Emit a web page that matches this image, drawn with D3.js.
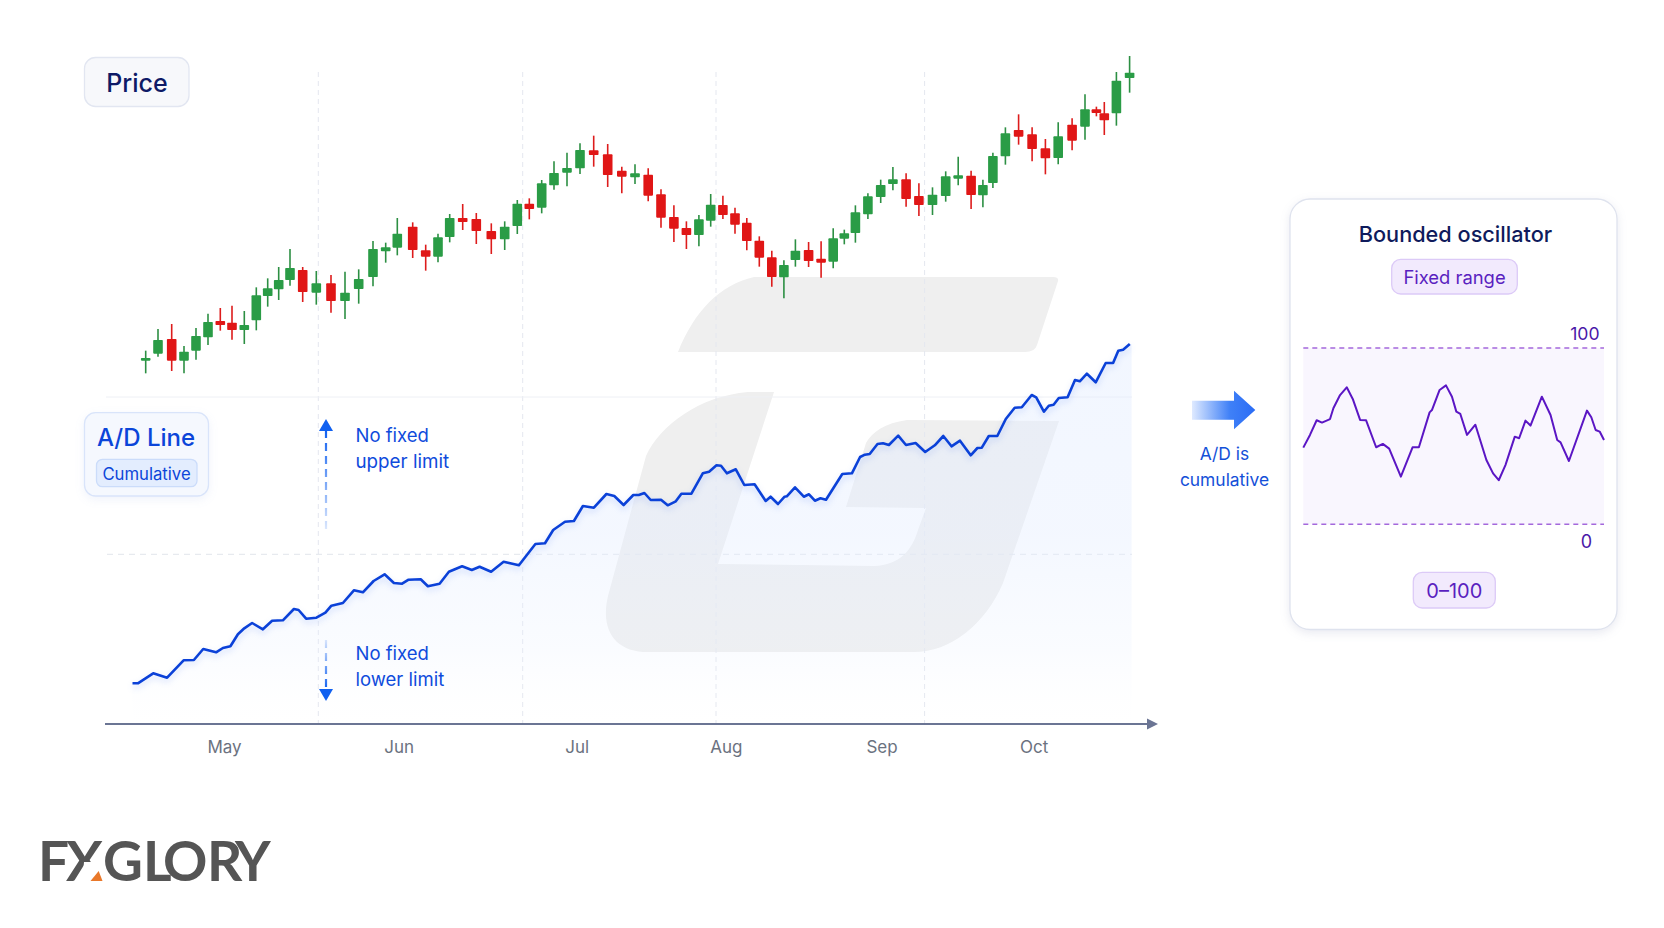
<!DOCTYPE html>
<html>
<head>
<meta charset="utf-8">
<script src="https://cdn.jsdelivr.net/npm/d3@7"></script>
<style>
  html, body { margin: 0; padding: 0; background: #fff; }
  svg { display: block; }
  text { font-family: Inter, "Noto Sans", sans-serif; }
</style>
</head>
<body>
<div id="chart"></div>
<script>
// candles, chart position along the time axis
var candleT = [45.7,58,71.7,84,96,108,120.3,132,144.3,156.3,167.7,178.7,190,202.7,216.3,231,245,258.7,273,285.7,297.3,312.7,325.7,338,349.7,362.7,376.3,391.3,404.7,417.3,429.3,441.7,454,467,480,493.7,507.7,521.8,535,548.2,561,573.9,586.4,598.9,610.7,622.9,635,646.8,659.3,671.8,683.9,695.4,708.6,721.1,733.2,744.3,755.4,767.9,780.7,792.9,806.1,818.9,832.5,845.7,858.2,871.1,882.9,892.9,905.4,918.6,932.1,945.4,958.2,972.1,985,996.4,1004.3,1016.4,1029.6];
var open  = [58,79,123,58,88,128,177,172,150,179,252,272,300,330,262,290,237,273,309,386,397,460,389,370,429,486,483,447,422,462,529,517,584,622,635,689,677,628,608,616,557,489,456,435,478,525,500,472,418,368,308,360,390,364,355,424,441,497,549,588,602,552,525,552,604,613,554,591,671,750,737,695,666,766,760,812,800,800,906];
var high  = [88,153,168,102,156,199,216,223,207,278,305,339,393,339,327,315,325,332,417,412,486,473,406,439,498,528,501,470,476,540,545,600,656,682,710,733,708,640,647,635,572,524,476,495,558,553,517,486,431,388,359,422,414,416,455,451,524,560,601,639,620,590,578,626,670,628,601,682,758,797,758,723,773,785,857,820,834,924,972];
var low   = [20,70,27,20,61,105,148,121,108,149,220,240,283,234,226,202,183,229,281,352,374,366,328,353,413,450,408,378,390,438,482,500,571,581,618,640,579,560,588,536,457,414,393,401,460,483,439,389,340,280,245,340,339,307,335,407,412,483,531,569,520,492,495,535,584,513,518,576,646,706,656,617,647,689,721,791,735,763,862];
var close = [66,120,58,85,132,174,165,150,165,254,275,300,336,264,290,237,262,303,393,398,439,390,370,428,486,474,447,422,460,529,513,590,621,636,690,675,615,610,620,553,487,454,435,482,526,495,466,417,367,309,345,388,357,352,425,440,503,551,585,602,543,525,556,611,614,555,585,672,740,730,693,665,731,718,812,801,779,898,922];

// A/D line
var adT = [32.5,37.9,53.2,67.1,83.6,93.9,103.2,116.1,122.9,130.4,137.9,144.3,152.1,162.9,172.1,182.9,193.9,198.6,206.1,216.4,225.4,231.4,242.9,253.9,262.9,273.6,284.6,293.9,302.1,308.6,320.7,327.9,339.6,348.9,362.1,371.8,379.6,391.1,403.6,418.9,435.4,445,453.2,465,473.9,482.9,493.9,506.4,514.3,523.6,533.3,538.8,544.4,550.7,561,567.7,575.8,581.4,591.4,602.8,609.1,616.5,621,626.9,635.8,644.3,654.6,665.7,670.6,678,684.6,686.8,695,703.8,709,714.9,720.5,726,742.3,751.9,760.1,764.9,769.7,777.5,783,788.9,798.2,806,815.6,825.2,834.8,843.3,851.5,860,870.7,877.4,881.8,888.8,897.3,905.8,914.7,921.8,931.7,936.2,943.9,948.8,953.6,958.8,967.6,975,979.8,986.9,995.7,1005.7,1013.1,1018.3,1023.1,1029.8];
var adValues = [16.7,16.7,26.7,22.3,39.7,40,51,47.7,52,53.7,65.7,71.7,77,70.7,79.3,79.7,91,90,81.3,82.3,87.3,94.3,97,109.7,107.7,119,125.7,117,116.3,120.3,120.7,113.7,116.3,128.3,133.7,130,133.3,128.3,138.3,134.7,156,156.7,170,178.3,179,194,192.3,206,204,195,205,205,207,200,200.3,194.7,198.7,206.3,206.3,226.7,228.3,234.7,234.3,226.7,230.7,215,215.7,199,203.3,196,203.3,203.7,212.7,203.3,205.7,199.3,201.7,200.3,226,226.7,243,245.3,246,256,256.7,255,264.3,255,257,248,254.7,264,253.7,259.3,244.7,252,252.3,264,264,281,292.3,292.7,305,302.7,288.3,294.3,295.3,302,302.7,320,318.7,326.3,317.7,337,337,349.3,350.3,356];

// bounded oscillator
var oscT = [0,20,40,56,80,90,110,130,148,170,188,218,238,257,292,327,346,378,385,408,427,445,458,470,490,515,548,568,585,605,633,646,665,680,714,740,760,770,795,849,862,875,887,900];
var oscValues = [43.5,50.7,59,57.7,59.7,65.8,73.3,77.7,71.1,59.2,59,43.7,45.6,42.9,27,43.7,43.7,63.5,64.8,76.2,78.8,72.4,63.9,62.6,50.7,56.5,36.5,28.9,25,33.6,49.7,48.8,58.8,56,72.4,62,47.8,46.5,35.9,64.5,60.7,53.5,52.6,47.8];
var oscLimits = [0, 100];

// axis
var months = ["May","Jun","Jul","Aug","Sep","Oct"];
var monthT = [124,298.6,476.8,625.8,781.5,933.6];
var gridT = [218.3,422.7,616,824.6];

var width = 1664, height = 928;
var svg = d3.select("#chart").append("svg").attr("width", width).attr("height", height);
var defs = svg.append("defs");

var axisY = 724;
var x = d3.scaleLinear().domain([0, 1100]).range([100, 1200]);
var yPrice = d3.scaleLinear().domain([0, 1020]).range([380, 40]);
var yAd = d3.scaleLinear().domain([-24, 360]).range([axisY, 340]);
var xOsc = d3.scaleLinear().domain([0, 900]).range([1303.3, 1604]);
var yOsc = d3.scaleLinear().domain(oscLimits).range([524.3, 348]);

var adGrad = defs.append("linearGradient").attr("id", "adFill")
  .attr("gradientUnits", "userSpaceOnUse").attr("x1", 0).attr("x2", 0).attr("y1", 344).attr("y2", axisY);
adGrad.append("stop").attr("offset", 0).attr("stop-color", "#e2ecff").attr("stop-opacity", 0.45);
adGrad.append("stop").attr("offset", 0.5).attr("stop-color", "#e4edff").attr("stop-opacity", 0.42);
adGrad.append("stop").attr("offset", 0.8).attr("stop-color", "#e8f0ff").attr("stop-opacity", 0.22);
adGrad.append("stop").attr("offset", 1).attr("stop-color", "#f5f8ff").attr("stop-opacity", 0);

var arrowGrad = defs.append("linearGradient").attr("id", "bigArrow");
arrowGrad.append("stop").attr("offset", 0).attr("stop-color", "#dfeaff");
arrowGrad.append("stop").attr("offset", 0.6).attr("stop-color", "#3f80f7");
arrowGrad.append("stop").attr("offset", 1).attr("stop-color", "#2a6cf5");

defs.append("filter").attr("id", "soft").append("feGaussianBlur").attr("stdDeviation", 4);

// watermark
var mark = svg.append("g").attr("fill", "#efefef");
mark.append("path").attr("d", "M678 352 C695 310 720 285 754 277 L1053 277 Q1059 277 1058 281 L1037 345 Q1035 352 1025 352 Z");
mark.append("path").attr("d", "M774 392 L748 392 C700 396 660 425 646 456 L608 596 C600 630 615 652 648 652 L914 652 C950 652 985 625 1003 583 L1059 421 L907 420 C885 423 872 432 866 443 L846 507 L926 508 L918 530 C912 550 900 565 874 566 L718 564 Z");

// grid
var grid = svg.append("g");
grid.selectAll("line.v").data(gridT).join("line").attr("class", "v")
  .attr("x1", d => x(d)).attr("x2", d => x(d)).attr("y1", 72).attr("y2", axisY)
  .attr("stroke", "#e4e7ef").attr("stroke-width", 1).attr("stroke-dasharray", "5 4");
grid.append("line").attr("x1", 106).attr("x2", 1132).attr("y1", 397).attr("y2", 397)
  .attr("stroke", "#eef0f5");
grid.append("line").attr("x1", 107).attr("x2", 1132).attr("y1", 554.3).attr("y2", 554.3)
  .attr("stroke", "#e2e5ec").attr("stroke-dasharray", "6 5");

// candles
var candles = candleT.map((t, i) => ({t: t, o: open[i], h: high[i], l: low[i], c: close[i]}));
var candleG = svg.append("g").selectAll("g").data(candles).join("g");
candleG.append("line")
  .attr("x1", d => x(d.t)).attr("x2", d => x(d.t))
  .attr("y1", d => yPrice(d.h)).attr("y2", d => yPrice(d.l))
  .attr("stroke", d => d.c >= d.o ? "#2c8f43" : "#dd1c1c").attr("stroke-width", 1.6);
candleG.append("rect")
  .attr("x", d => x(d.t) - 4.8).attr("width", 9.6)
  .attr("y", d => yPrice(Math.max(d.o, d.c)))
  .attr("height", d => Math.abs(yPrice(d.o) - yPrice(d.c)))
  .attr("rx", 0.8)
  .attr("fill", d => d.c >= d.o ? "#2a9c46" : "#e01616");

// A/D area and line
var adData = adT.map((t, i) => ({t: t, v: adValues[i]}));
var area = d3.area().x(d => x(d.t)).y0(axisY).y1(d => yAd(d.v));
svg.append("path").datum(adData.concat([{t: 1031.6, v: 356}])).attr("d", area).attr("fill", "url(#adFill)");
var adLine = d3.line().x(d => x(d.t)).y(d => yAd(d.v));
svg.append("path").datum(adData).attr("d", adLine)
  .attr("fill", "none").attr("stroke", "#0b41d8").attr("stroke-width", 2.6).attr("stroke-linejoin", "round")
  .style("filter", "drop-shadow(0 3px 3px rgba(50,100,235,.22))");

// time axis
svg.append("line").attr("x1", 105).attr("x2", 1150).attr("y1", axisY).attr("y2", axisY)
  .attr("stroke", "#6b7594").attr("stroke-width", 1.8);
svg.append("path").attr("d", "M1147 718.5 L1158 724 L1147 729.5 Z").attr("fill", "#6b7594");
var xAxis = d3.axisBottom(x).tickValues(monthT).tickFormat((d, i) => months[i]).tickSize(0).tickPadding(17);
var axisG = svg.append("g").attr("transform", "translate(0," + axisY + ")").call(xAxis);
axisG.select(".domain").remove();
axisG.selectAll("text").style("font-family", "Inter, sans-serif").style("font-size", "17px").attr("fill", "#6b7280");

// labels
function chip(g, x0, y0, w, h, r, fill, stroke) {
  return g.append("rect").attr("x", x0).attr("y", y0).attr("width", w).attr("height", h).attr("rx", r)
    .attr("fill", fill).attr("stroke", stroke).attr("stroke-width", 1.3);
}
function label(txt, px, py, size, weight, color, anchor) {
  return svg.append("text").attr("x", px).attr("y", py).attr("font-size", size).attr("font-weight", weight)
    .attr("fill", color).attr("text-anchor", anchor || "start").text(txt);
}
chip(svg, 84.5, 57.5, 104.5, 49, 11, "#f7f8fb", "#e2e6f1");
label("Price", 137, 91.5, 25, 550, "#0e1a66", "middle");

chip(svg, 84.5, 412.7, 124, 83.3, 11, "#f5f8fe", "#d9e4fa").style("filter", "drop-shadow(0 3px 5px rgba(60,100,200,.08))");
label("A/D Line", 146, 445.5, 24, 550, "#0b45d9", "middle");
chip(svg, 96.5, 459.3, 100.5, 27.4, 6, "#e3edfe", "#cbdcfa");
label("Cumulative", 146.5, 479.5, 16.7, 400, "#0b45d9", "middle");

// no limit arrows
var blue = "#1060f0";
var fadeUp = defs.append("linearGradient").attr("id", "fadeUp").attr("gradientUnits", "userSpaceOnUse")
  .attr("x1", 0).attr("x2", 0).attr("y1", 430).attr("y2", 533);
fadeUp.append("stop").attr("offset", 0).attr("stop-color", blue);
fadeUp.append("stop").attr("offset", 1).attr("stop-color", blue).attr("stop-opacity", 0.12);
var fadeDown = defs.append("linearGradient").attr("id", "fadeDown").attr("gradientUnits", "userSpaceOnUse")
  .attr("x1", 0).attr("x2", 0).attr("y1", 640).attr("y2", 690);
fadeDown.append("stop").attr("offset", 0).attr("stop-color", blue).attr("stop-opacity", 0.15);
fadeDown.append("stop").attr("offset", 1).attr("stop-color", blue);
svg.append("line").attr("x1", 326).attr("x2", 326.01).attr("y1", 430).attr("y2", 533)
  .attr("stroke", "url(#fadeUp)").attr("stroke-width", 2.2).attr("stroke-dasharray", "8 5");
svg.append("path").attr("d", "M326 419 L333 431 L319 431 Z").attr("fill", blue);
svg.append("line").attr("x1", 326).attr("x2", 326.01).attr("y1", 640).attr("y2", 690)
  .attr("stroke", "url(#fadeDown)").attr("stroke-width", 2.2).attr("stroke-dasharray", "8 5");
svg.append("path").attr("d", "M326 701 L333 689 L319 689 Z").attr("fill", blue);
label("No fixed", 355.5, 441.5, 18.5, 400, "#0f4bdc");
label("upper limit", 355.5, 467.5, 18.8, 400, "#0f4bdc");
label("No fixed", 355.5, 659.5, 18.5, 400, "#0f4bdc");
label("lower limit", 355.5, 685.5, 18.5, 400, "#0f4bdc");

// big arrow
svg.append("path").attr("d", "M1192 400.7 L1234 400.7 L1234 390.7 L1255.3 410 L1234 429.3 L1234 419.7 L1192 419.7 Z").attr("fill", "url(#bigArrow)");
label("A/D is", 1224.5, 459.5, 17.4, 400, "#1450d8", "middle");
label("cumulative", 1224.5, 485.5, 17.4, 400, "#1450d8", "middle");

// oscillator card
chip(svg, 1290, 199, 327, 430.5, 20, "#fff", "#dfe3ee").style("filter", "drop-shadow(0 3px 5px rgba(70,80,140,.12))");
label("Bounded oscillator", 1455.5, 241.5, 21.7, 550, "#0f1b5c", "middle");
chip(svg, 1391.7, 259.3, 125.6, 34.7, 9, "#f2eafd", "#dccaf7");
label("Fixed range", 1454.5, 284, 18.4, 400, "#5a1fc0", "middle");
svg.append("rect").attr("x", xOsc(0)).attr("width", xOsc(900) - xOsc(0))
  .attr("y", yOsc(100)).attr("height", yOsc(0) - yOsc(100)).attr("fill", "#f9f6fe");
svg.append("line").attr("x1", xOsc(20)).attr("x2", xOsc(880)).attr("y1", yOsc(57)).attr("y2", yOsc(57))
  .attr("stroke", "#fff").attr("stroke-width", 6).attr("filter", "url(#soft)").attr("opacity", 0.8);
svg.append("g").selectAll("line").data(oscLimits).join("line")
  .attr("x1", xOsc(0)).attr("x2", xOsc(900)).attr("y1", d => yOsc(d)).attr("y2", d => yOsc(d))
  .attr("stroke", "#a468dc").attr("stroke-width", 1.6).attr("stroke-dasharray", "5 4");
var oscData = oscT.map((t, i) => ({t: t, v: oscValues[i]}));
svg.append("path").datum(oscData)
  .attr("d", d3.line().x(d => xOsc(d.t)).y(d => yOsc(d.v)))
  .attr("fill", "none").attr("stroke", "#5b16c4").attr("stroke-width", 2).attr("stroke-linejoin", "round");
label("100", 1599.5, 340, 17.6, 400, "#4a17a8", "end");
label("0", 1586.5, 547.5, 18, 400, "#4a17a8", "middle");
chip(svg, 1413.3, 572.3, 82, 35.7, 9, "#f2eafd", "#dccaf7");
label("0–100", 1454.3, 597.8, 20, 400, "#5a1fc0", "middle");

// logo, X has a cut corner with the orange wedge
var logoX = [38, 66, 103, 143, 163, 207, 235];
svg.append("text").attr("y", 881).attr("x", logoX.join(" ")).attr("font-size", 55).attr("font-weight", 700)
  .attr("fill", "#555555").style("font-family", "Lato, sans-serif").text("FXGLORY");
svg.append("path").attr("d", "M84 862 L104 862 L104 884 L82 884 Z").attr("fill", "#fff");
svg.append("path").attr("d", "M98.7 871 L90.5 881 L102.5 881 Z").attr("fill", "#e9782a");
</script>
</body>
</html>
